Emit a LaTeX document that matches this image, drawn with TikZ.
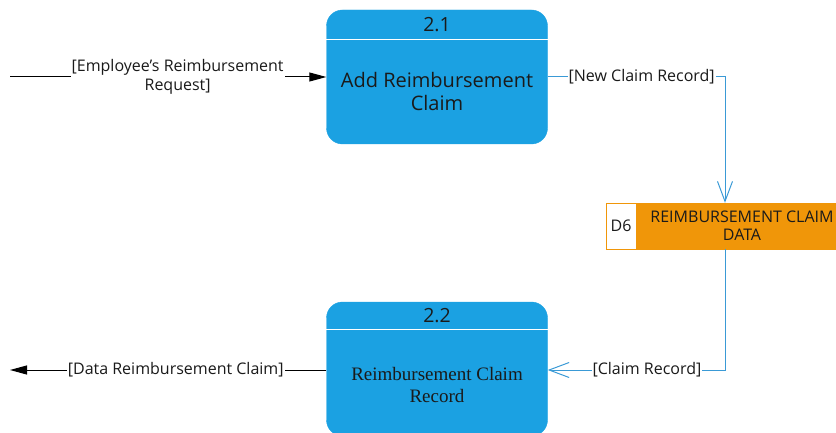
\documentclass[tikz,border=0pt]{standalone}
\usepackage{fontspec}
\setmainfont{Open Sans}
\newfontfamily\procserif{Liberation Serif}
\usetikzlibrary{arrows.meta}
\definecolor{procblue}{HTML}{1BA1E2}
\definecolor{storeorange}{HTML}{F09609}
\definecolor{flowblue}{HTML}{3A9AD6}
\definecolor{textdark}{HTML}{1A1A1A}
\tikzset{
  process/.style={fill=procblue, draw=procblue, rounded corners=16pt,
    minimum width=221pt, minimum height=134pt, inner sep=0pt},
  procid/.style={text=textdark, font=\fontsize{19.5}{22}\selectfont},
  procname/.style={text=textdark, align=center, font=\fontsize{20}{23}\selectfont},
  store/.style={fill=storeorange, draw=storeorange, minimum width=212pt,
    minimum height=46pt, inner sep=0pt, align=center, text=textdark,
    font=\fontsize{16}{18}\selectfont},
  storeid/.style={fill=white, draw=storeorange, minimum width=30pt,
    minimum height=46pt, inner sep=0pt, text=textdark,
    font=\fontsize{16}{18}\selectfont},
  flowlabel/.style={fill=white, inner sep=1pt, align=center, text=textdark,
    font=\fontsize{16}{19.5}\selectfont},
  extflow/.style={draw=black, line width=1pt, -{Triangle[length=17pt,width=9pt]}},
  storeflow/.style={draw=flowblue, line width=1pt, -{Straight Barb[length=20pt,width=15pt]}}
}
\begin{document}
\begin{tikzpicture}[x=1pt,y=-1pt]
  \useasboundingbox (0,0) rectangle (836,433);
  \draw
    (437,77) node[process] (p21){}
    (437,369) node[process] (p22){}
    (742,226) node[store] (d6){REIMBURSEMENT CLAIM\\DATA}
    (621,226) node[storeid] (d6id){D6};
  % headers
  \draw[white, line width=1pt] (p21.west |- 0,39.5) -- (p21.east |- 0,39.5);
  \draw[white, line width=1pt] (p22.west |- 0,329) -- (p22.east |- 0,329);
  \draw
    (437,25) node[procid] (p21id){2.1}
    (437,92) node[procname] (p21name){Add Reimbursement\\Claim}
    (437,316) node[procid] (p22id){2.2}
    (437,385) node[procname, font=\procserif\fontsize{19}{21}\selectfont] (p22name){Reimbursement Claim\\Record};
  \coordinate (empl) at (10,77);
  \coordinate (outp) at (10,370);
  % flows
  \draw[extflow] (empl) -- (p21.west |- empl)
    node[flowlabel, pos=0.53] {[Employee’s Reimbursement\\Request]};
  \draw[storeflow] (p21.east) -| ([xshift=-17pt]d6.north)
    node[flowlabel, pos=0.265] {[New Claim Record]};
  \draw[storeflow] ([xshift=-17pt]d6.south) |- (p22.east |- outp)
    node[flowlabel, pos=0.72] {[Claim Record]};
  \draw[extflow] (p22.west |- outp) -- (outp)
    node[flowlabel, pos=0.476] {[Data Reimbursement Claim]};
\end{tikzpicture}
\end{document}
